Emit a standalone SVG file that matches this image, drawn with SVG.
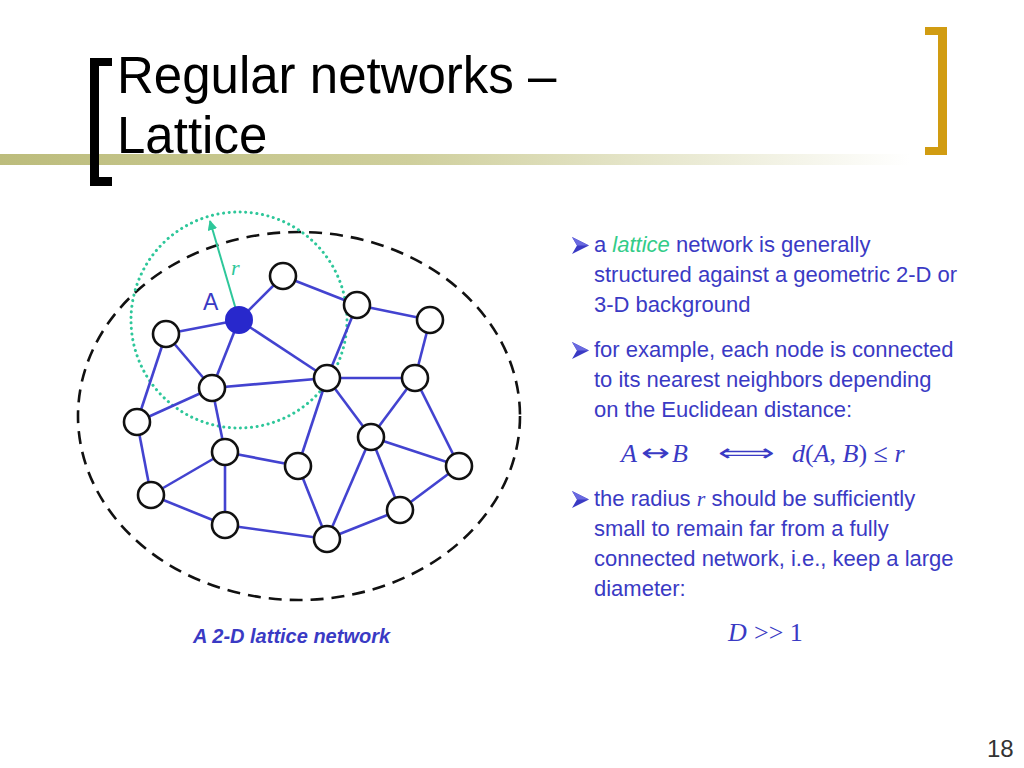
<svg xmlns="http://www.w3.org/2000/svg" width="1024" height="768" viewBox="0 0 1024 768">
<defs>
<linearGradient id="bar" x1="0" y1="0" x2="1" y2="0">
<stop offset="0" stop-color="#bcbc7c"/>
<stop offset="0.45" stop-color="#cfcf9c"/>
<stop offset="1" stop-color="#ffffff"/>
</linearGradient>
<marker id="ah" viewBox="0 0 10 10" refX="9" refY="5" markerWidth="5" markerHeight="5" orient="auto" markerUnits="strokeWidth">
<path d="M0,0 L10,5 L0,10 z" fill="#2ec79a"/>
</marker>
<g id="bul">
<polygon points="0,0 17,8.5 0,17 5,8.5" fill="#3a3ac4"/>
<polygon points="0,0 17,8.5 5,8.5" fill="#6a6ae0"/>
</g>
</defs>
<style>
.edge{stroke:#4343d0;stroke-width:2.6;fill:none}
.node{fill:#ffffff;stroke:#111111;stroke-width:2.6}
.txt{font-family:"Liberation Sans",Arial,sans-serif;font-size:22px;fill:#3a3ac4}
.math{font-family:"Liberation Serif","Times New Roman",serif;font-size:26px;fill:#3a3ac4}
.arr{font-family:"DejaVu Sans",sans-serif;font-size:24px;fill:#3a3ac4}
.title{font-family:"Liberation Sans",Arial,sans-serif;font-size:51px;fill:#000}
</style>
<rect width="1024" height="768" fill="#fff"/>
<rect x="0" y="154" width="910" height="11" fill="url(#bar)"/>
<path d="M112,58 H90 V186 H112 V177 H99 V66 H112 Z" fill="#000"/>
<path d="M925,27 H947 V155 H925 V147 H938 V35 H925 Z" fill="#d19c12"/>
<text class="title" x="117" y="93">Regular networks –</text>
<text class="title" x="117" y="153">Lattice</text>

<ellipse cx="299" cy="416" rx="221" ry="184" fill="none" stroke="#111" stroke-width="2.6" stroke-dasharray="13 8"/>
<circle cx="239" cy="320" r="108" fill="none" stroke="#2ec79a" stroke-width="3" stroke-dasharray="0.1 5.5" stroke-linecap="round"/>

<g id="connectors">
<line class="edge" x1="239" y1="320" x2="283" y2="276"/>
<line class="edge" x1="239" y1="320" x2="166" y2="334"/>
<line class="edge" x1="239" y1="320" x2="212" y2="388"/>
<line class="edge" x1="239" y1="320" x2="327" y2="378"/>
<line class="edge" x1="283" y1="276" x2="357" y2="305"/>
<line class="edge" x1="357" y1="305" x2="430" y2="320"/>
<line class="edge" x1="357" y1="305" x2="327" y2="378"/>
<line class="edge" x1="430" y1="320" x2="415" y2="378"/>
<line class="edge" x1="166" y1="334" x2="212" y2="388"/>
<line class="edge" x1="166" y1="334" x2="137" y2="422"/>
<line class="edge" x1="212" y1="388" x2="327" y2="378"/>
<line class="edge" x1="212" y1="388" x2="137" y2="422"/>
<line class="edge" x1="212" y1="388" x2="225" y2="452"/>
<line class="edge" x1="327" y1="378" x2="415" y2="378"/>
<line class="edge" x1="327" y1="378" x2="371" y2="437"/>
<line class="edge" x1="327" y1="378" x2="298" y2="466"/>
<line class="edge" x1="415" y1="378" x2="371" y2="437"/>
<line class="edge" x1="415" y1="378" x2="459" y2="466"/>
<line class="edge" x1="137" y1="422" x2="151" y2="495"/>
<line class="edge" x1="225" y1="452" x2="151" y2="495"/>
<line class="edge" x1="225" y1="452" x2="225" y2="525"/>
<line class="edge" x1="225" y1="452" x2="298" y2="466"/>
<line class="edge" x1="151" y1="495" x2="225" y2="525"/>
<line class="edge" x1="225" y1="525" x2="327" y2="539"/>
<line class="edge" x1="298" y1="466" x2="327" y2="539"/>
<line class="edge" x1="371" y1="437" x2="327" y2="539"/>
<line class="edge" x1="371" y1="437" x2="459" y2="466"/>
<line class="edge" x1="371" y1="437" x2="400" y2="510"/>
<line class="edge" x1="459" y1="466" x2="400" y2="510"/>
<line class="edge" x1="400" y1="510" x2="327" y2="539"/>
<line x1="239" y1="320" x2="210" y2="221" stroke="#2ec79a" stroke-width="2" marker-end="url(#ah)"/>
</g>

<g id="nodeA"><circle cx="239" cy="320" r="14" fill="#2828cc"/></g>
<g id="n1"><circle class="node" cx="283" cy="276" r="13"/></g>
<g id="n2"><circle class="node" cx="357" cy="305" r="13"/></g>
<g id="n3"><circle class="node" cx="430" cy="320" r="13"/></g>
<g id="n4"><circle class="node" cx="166" cy="334" r="13"/></g>
<g id="n5"><circle class="node" cx="212" cy="388" r="13"/></g>
<g id="n6"><circle class="node" cx="327" cy="378" r="13"/></g>
<g id="n7"><circle class="node" cx="415" cy="378" r="13"/></g>
<g id="n8"><circle class="node" cx="137" cy="422" r="13"/></g>
<g id="n9"><circle class="node" cx="371" cy="437" r="13"/></g>
<g id="n10"><circle class="node" cx="225" cy="452" r="13"/></g>
<g id="n11"><circle class="node" cx="298" cy="466" r="13"/></g>
<g id="n12"><circle class="node" cx="459" cy="466" r="13"/></g>
<g id="n13"><circle class="node" cx="151" cy="495" r="13"/></g>
<g id="n14"><circle class="node" cx="225" cy="525" r="13"/></g>
<g id="n15"><circle class="node" cx="400" cy="510" r="13"/></g>
<g id="n16"><circle class="node" cx="327" cy="539" r="13"/></g>

<text x="203" y="310" font-family="Liberation Sans,Arial,sans-serif" font-size="23" fill="#3a3ac4">A</text>
<text x="231" y="275" font-family="Liberation Serif,Times New Roman,serif" font-style="italic" font-size="22" fill="#2ec79a">r</text>

<text x="193" y="643" font-family="Liberation Sans,Arial,sans-serif" font-size="20" font-weight="bold" font-style="italic" fill="#3a3ac4">A 2-D lattice network</text>

<use href="#bul" x="572" y="237"/>
<use href="#bul" x="572" y="342"/>
<use href="#bul" x="572" y="491"/>
<text class="txt" x="594" y="252">a <tspan font-style="italic" fill="#33cc88">lattice</tspan> network is generally</text>
<text class="txt" x="594" y="282">structured against a geometric 2-D or</text>
<text class="txt" x="594" y="312">3-D background</text>
<text class="txt" x="594" y="357">for example, each node is connected</text>
<text class="txt" x="594" y="387">to its nearest neighbors depending</text>
<text class="txt" x="594" y="417">on the Euclidean distance:</text>
<text class="math" x="621" y="462" font-style="italic">A</text>
<text class="arr" x="641" y="461" textLength="29" lengthAdjust="spacingAndGlyphs">↔</text>
<text class="math" x="672" y="462" font-style="italic">B</text>
<text class="arr" x="718" y="461" textLength="57" lengthAdjust="spacingAndGlyphs">⟺</text>
<text class="math" x="792" y="462"><tspan font-style="italic">d</tspan>(<tspan font-style="italic">A</tspan>, <tspan font-style="italic">B</tspan>) ≤ <tspan font-style="italic">r</tspan></text>
<text class="txt" x="594" y="506">the radius <tspan font-family="Liberation Serif,serif" font-style="italic">r</tspan> should be sufficiently</text>
<text class="txt" x="594" y="536">small to remain far from a fully</text>
<text class="txt" x="594" y="566">connected network, i.e., keep a large</text>
<text class="txt" x="594" y="596">diameter:</text>
<text class="math" y="641"><tspan x="728" font-style="italic">D</tspan><tspan x="754">&gt;&gt; 1</tspan></text>

<text x="987" y="757" font-family="Liberation Sans,Arial,sans-serif" font-size="24" fill="#333">18</text>
</svg>
